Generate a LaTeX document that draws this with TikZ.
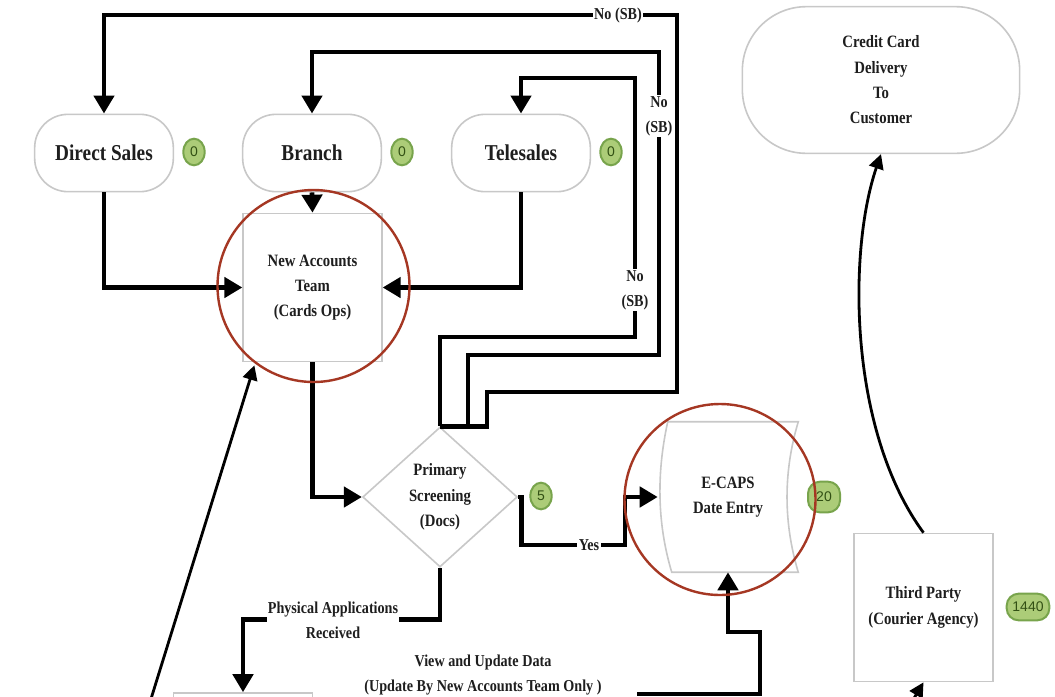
\documentclass[tikz,border=0pt]{standalone}
\usepackage{fontspec}
\setmainfont[FakeStretch=0.85]{Liberation Serif}
\setsansfont{Liberation Sans}
\usepackage{xcolor}
\usetikzlibrary{arrows.meta, positioning, calc, shapes.geometric}

\definecolor{boxgray}{RGB}{200,200,200}
\definecolor{badgefill}{RGB}{172,204,120}
\definecolor{badgeedge}{RGB}{120,164,76}
\definecolor{badgetext}{RGB}{50,80,20}
\definecolor{ringred}{RGB}{165,55,35}
\definecolor{inktext}{RGB}{30,30,30}

\begin{document}
\begin{tikzpicture}[x=0.75pt, y=-0.75pt,
    pill/.style={draw=boxgray, line width=1.2pt, fill=white, rounded corners=25pt,
        minimum width=104pt, minimum height=58pt, text=inktext,
        font=\bfseries\fontsize{17}{20}\selectfont},
    procbox/.style={draw=boxgray, line width=1.2pt, fill=white, align=center,
        minimum width=104pt, minimum height=111pt, text=inktext,
        font=\bfseries\fontsize{13}{19}\selectfont},
    decision/.style={diamond, draw=boxgray, line width=1.2pt, fill=white, align=center,
        inner sep=0pt, minimum width=116pt, minimum height=105pt, text=inktext,
        font=\bfseries\fontsize{13}{19}\selectfont},
    badge/.style={ellipse, draw=badgeedge, fill=badgefill, line width=1.5pt, inner sep=0pt,
        minimum width=16pt, minimum height=20pt, text=badgetext,
        font=\sffamily\fontsize{10.5}{12}\selectfont},
    tag/.style={fill=white, inner sep=1pt, align=center, text=inktext,
        font=\bfseries\fontsize{12.5}{19}\selectfont},
    flow/.style={line width=3.6pt, -{Triangle[length=13.5pt, width=15pt]}},
    thinflow/.style={line width=2.1pt, -{Triangle[length=11pt, width=11pt]}},
    ring/.style={draw=ringred, line width=1.8pt}
]
    \useasboundingbox (0,0) rectangle (1055,696);
    \clip (0,0) rectangle (1055,696);
    \fill[white] (0,0) rectangle (1055,696);

    % Sales channels
    \node[pill] (direct) at (104,153) {Direct Sales};
    \node[pill] (branch) at (312,153) {Branch};
    \node[pill] (tele) at (521,153) {Telesales};
    \node[pill, rounded corners=48pt, minimum width=208pt, minimum height=110pt, align=center,
        font=\bfseries\fontsize{13}{19}\selectfont] (credit) at (881,80)
        {Credit Card\\Delivery\\To\\Customer};

    % Processing steps
    \node[procbox] (nat) at (312.5,287.5) {New Accounts\\Team\\(Cards Ops)};
    \node[decision] (dia) at (440,497) {Primary\\Screening\\(Docs)};
    \node[align=center, inner sep=0pt, minimum width=105pt, minimum height=112.5pt, text=inktext,
        font=\bfseries\fontsize{13}{19}\selectfont] (ecaps) at (728,497) {E-CAPS\\Date Entry};
    \draw[draw=boxgray, line width=1.2pt] ($(ecaps.north west)+(10,0)$) -- (ecaps.north east)
        .. controls ($(ecaps.north east)+(-15,50)$) and ($(ecaps.south east)+(-15,-50)$) .. (ecaps.south east)
        -- ($(ecaps.south west)+(14,0)$)
        .. controls ($(ecaps.south west)+(-1,-50)$) and ($(ecaps.north west)+(-1,50)$) .. cycle;
    \node[procbox] (third) at (923.5,607.5) {Third Party\\(Courier Agency)};
    \node[procbox] (paperbox) at (243,767) {};

    % Turnaround badges
    \node[badge] (bDirect) at (194,152) {0};
    \node[badge] (bBranch) at (402,152) {0};
    \node[badge] (bTele) at (611,152) {0};
    \node[badge] (bScreen) at (541,496) {5};
    \node[badge, rectangle, rounded corners=9pt, minimum width=24pt, minimum height=23pt] (bEcaps) at (824,497) {20};
    \node[badge, rectangle, rounded corners=9pt, minimum width=32pt, minimum height=20pt] (bCourier) at (1028,607) {1440};

    % Channels into the team
    \draw[flow] (direct.south) |- (nat.west);
    \draw[flow] (branch.south) -- (nat.north);
    \draw[flow] (tele.south) |- (nat.east);
    \draw[flow] (nat.south) |- (dia.west);

    % Rejected back to the channels
    \draw[flow] (dia.north) |- (635,337) -- (635,78) -| (tele.north);
    \draw[flow] ($(dia.north)+(28,0)$) |- (659,355) -- (659,52) -| (branch.north);
    \draw[flow] (dia.north) -- ++(47,0) |- (677,392) -- (677,15) -| (direct.north);
    \node[tag] (noTop) at (618,15) {No (SB)};
    \node[tag] (noMid) at (659,116) {No\\(SB)};
    \node[tag] (noLow) at (635,290) {No\\(SB)};

    % Accepted
    \draw[flow] (dia.east) -- ++(3,0) |- (625,545) |- (ecaps.west);
    \node[tag] (yesLbl) at (589,545) {Yes};

    % Physical applications
    \draw[flow] (dia.south) |- ($(paperbox.north)+(0,-73)$) -- (paperbox.north);
    \node[tag] (physLbl) at (333,620) {Physical Applications\\Received};

    % View and update
    \coordinate (viewFrom) at (637,694);
    \draw[flow] (viewFrom) -| (760,632) -| (ecaps.south);
    \node[tag, fill=none] (viewLbl) at (483,675) {View and Update Data\\(Update By New Accounts Team Only )};

    % Delivery
    \draw[thinflow] (third.north) .. controls (848,430) and (848,250) .. (credit.south);
    \coordinate (lowRight) at (898,725);
    \draw[thinflow] (lowRight) -- (third.south);
    \coordinate (lowLeft) at (146,715);
    \draw[thinflow] (lowLeft) -- ($(nat.south west)+(12,3)$);

    % Highlight rings
    \draw[ring] ($(nat.center)+(1,-1.5)$) circle[radius=96];
    \draw[ring] ($(ecaps.center)+(-8,2.5)$) circle[radius=95.5];
\end{tikzpicture}
\end{document}
